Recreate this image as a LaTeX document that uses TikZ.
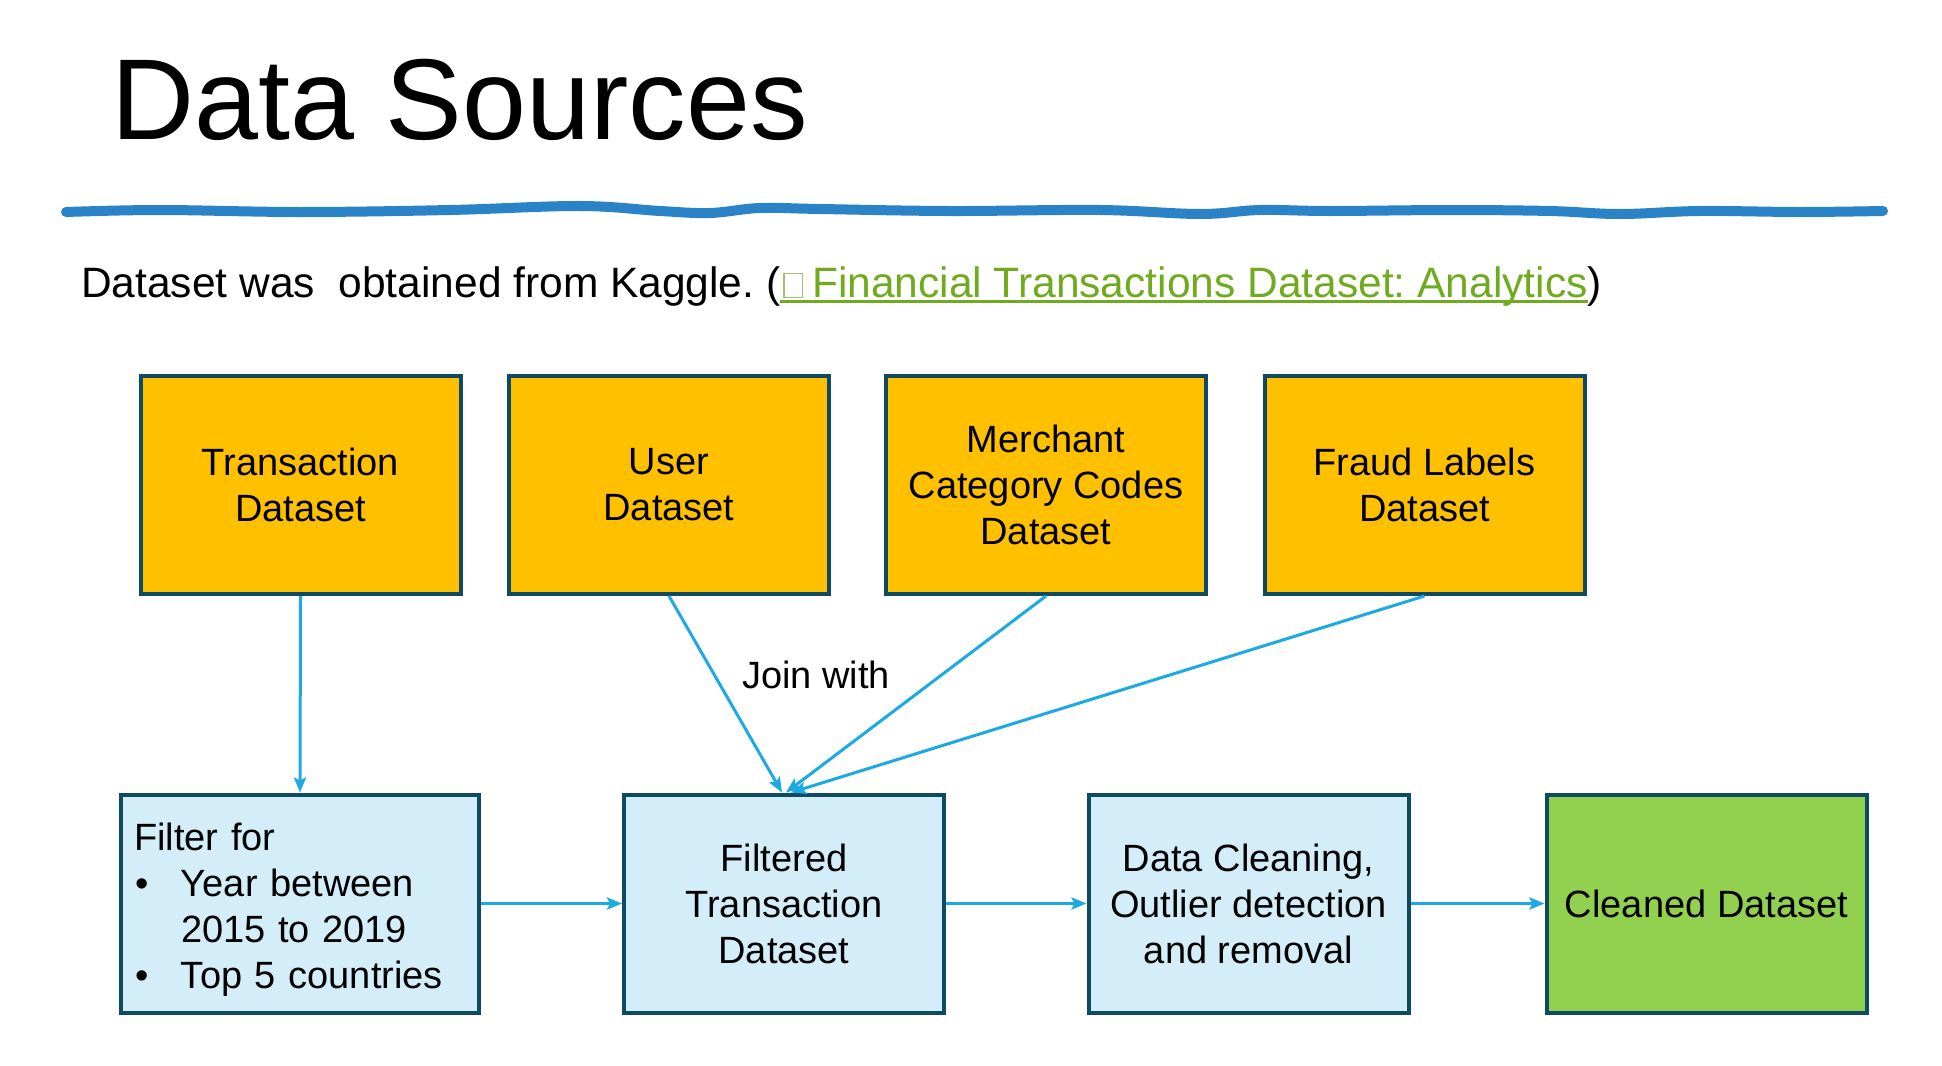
\documentclass[tikz,border=0pt]{standalone}
\usepackage{fontspec}
\setmainfont{Liberation Sans}
\usetikzlibrary{arrows.meta}
\definecolor{orangebox}{HTML}{FFC000}
\definecolor{bluebox}{HTML}{D3EEF9}
\definecolor{greenbox}{HTML}{92D050}
\definecolor{edgeblue}{HTML}{0E4A64}
\definecolor{arrowblue}{HTML}{1DA9E1}
\definecolor{wavecol}{HTML}{2A83C6}
\definecolor{linkgreen}{HTML}{6FAA1F}
\definecolor{tofucol}{HTML}{9CC46A}
\newcommand{\bul}{\makebox[47pt][l]{\hspace{1pt}\textbullet}}
\newcommand{\ulink}[1]{\setbox0\hbox{#1}\rlap{\rule[-6pt]{\wd0}{3pt}}\box0}
\newcommand{\tofu}{{\fboxsep=0pt\fboxrule=1.3pt\textcolor{tofucol}{\fbox{\rule{0pt}{23pt}\hspace{17pt}}}}}
\begin{document}
\begin{tikzpicture}[x=1pt,y=-1pt,
  box/.style={draw=edgeblue, line width=4pt, minimum width=320pt, minimum height=218pt,
    inner sep=0pt, align=center, font=\fontsize{38}{46}\selectfont},
  srcbox/.style={box, fill=orangebox},
  procbox/.style={box, fill=bluebox},
  endbox/.style={box, fill=greenbox},
  conn/.style={draw=arrowblue, line width=3pt, -{Stealth[length=15pt,width=12pt,inset=3pt]}},
  lbl/.style={inner sep=0pt, font=\fontsize{38}{46}\selectfont}
]
\useasboundingbox (0,0) rectangle (1942,1065);
\fill[white] (0,0) rectangle (1942,1065);

% title
\node[anchor=base west, inner sep=0pt, font=\fontsize{115}{120}\selectfont] (title) at (111,139) {Data Sources};

% wavy rule
\draw[wavecol, line width=10pt, line cap=round, line join=round]
  plot[smooth, tension=0.6] coordinates {(66,212) (160,210) (300,212) (450,210) (580,206) (660,211) (710,213) (760,208) (820,209) (950,211) (1100,210) (1200,214) (1260,210) (1330,211) (1450,210) (1550,211) (1620,214) (1700,211) (1800,212) (1883,211)};

% source line
\node[anchor=base west, inner sep=0pt, font=\fontsize{42.5}{50}\selectfont] (src) at (81,297)
  {\frenchspacing Dataset was\ \ obtained from Kaggle. (\textcolor{linkgreen}{\ulink{\hspace{3pt}\tofu\hspace{9pt}Financial Transactions Dataset: Analytics}})};

% top boxes
\node[srcbox] (t1) at (300.5,485) {Transaction\\Dataset};
\node[srcbox] (t2) at (669,485) {User\\Dataset};
\node[srcbox] (t3) at (1046,485) {Merchant\\Category Codes\\Dataset};
\node[srcbox] (t4) at (1424.5,485) {Fraud Labels\\Dataset};

% bottom boxes
\node[procbox, minimum width=358pt, align=left, text width=332pt, inner xsep=13pt] (b1) at (300,903.5)
  {\rule{0pt}{40pt}Filter for\\\bul Year between\\\hspace*{47pt}2015 to 2019\\\bul Top 5 countries};
\node[procbox] (b2) at (784,903.5) {Filtered\\Transaction\\Dataset};
\node[procbox] (b3) at (1248.5,903.5) {Data Cleaning,\\Outlier detection\\and removal};
\node[endbox] (b4) at (1706.5,903.5) {Cleaned Dataset};

\node[lbl] (join) at (816,675) {Join with};

% connectors
\draw[conn] (t1.south) -- (b1.north);
\draw[conn] (t2.south) -- ([xshift=-2pt]b2.north);
\draw[conn] (t3.south) -- ([xshift=2pt]b2.north);
\draw[conn] (t4.south) -- ([xshift=7pt]b2.north);
\draw[conn] (b1.east) -- (b2.west);
\draw[conn] (b2.east) -- (b3.west);
\draw[conn] (b3.east) -- (b4.west);
\end{tikzpicture}
\end{document}
